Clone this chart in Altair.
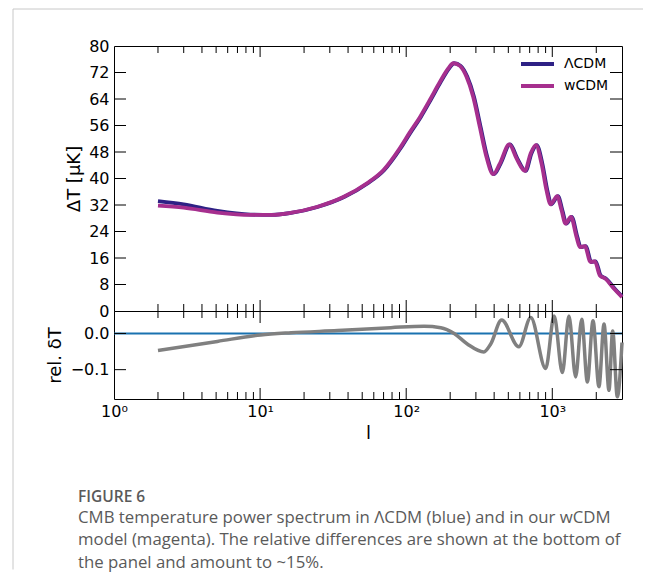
import altair as alt
import pandas as pd

# ---------------- data ----------------
MODELS = ["ΛCDM", "wCDM"]
COLORS = ["#2e2185", "#a62f8e"]

lcdm_l = [2, 3, 5.1, 8.6, 12, 16.3, 24.7, 37.6, 54.3, 70.6, 91.8, 107.5, 126, 147, 172.5,
          197, 213, 236, 262, 291, 323, 359, 399, 443, 514, 577, 658, 719, 782, 855, 925,
          986, 1094, 1172, 1248, 1357, 1485, 1564, 1692, 1850, 1981, 2143, 2344, 2642, 3000]
lcdm_T = [33.2, 32.2, 30.2, 29.1, 29.0, 29.6, 31.4, 34.4, 38.5, 42.5, 49.2, 54.0, 58.6, 63.7, 69.2,
          73.3, 74.8, 74.0, 70.7, 64.7, 55.6, 46.5, 41.3, 44.5, 50.3, 46.0, 42.3, 47.5, 50.1, 44.5, 36.4,
          32.2, 34.7, 30.4, 26.4, 28.4, 22.3, 19.3, 19.6, 14.8, 15.0, 10.7, 9.7, 7.0, 4.4]

wcdm_l = [2, 3, 5.1, 8.6, 12, 16.1, 24.4, 37.1, 53.6, 69.7, 90.6, 106.1, 124.4, 145.1, 170.3,
          194.5, 210.3, 233.0, 258.7, 287.3, 318.9, 354.4, 393.9, 437.4, 507.5, 569.7, 649.6, 709.8, 772.0, 844.1, 913.2,
          973.4, 1080, 1157, 1232, 1340, 1466, 1544, 1671, 1826, 1956, 2116, 2314, 2608, 3000]
wcdm_T = [31.8, 31.2, 29.7, 29.0, 29.0, 29.6, 31.4, 34.4, 38.5, 42.5, 49.2, 54.0, 58.6, 63.7, 69.2,
          73.3, 74.8, 74.0, 70.7, 64.7, 55.6, 46.5, 41.3, 44.5, 50.3, 46.0, 42.3, 47.5, 50.1, 44.5, 36.4,
          32.2, 34.7, 30.4, 26.4, 28.4, 22.3, 19.3, 19.6, 14.8, 15.0, 10.7, 9.7, 7.0, 4.2]

delta_l = [2, 5.1, 10.1, 16.3, 33.9, 78.5, 132.6, 172.5, 213, 262, 340, 379, 450, 590, 712,
           901, 1030, 1172, 1300, 1445, 1590, 1738, 1900, 2086, 2260, 2443, 2590, 2787, 3000]
delta_v = [-0.047, -0.022, -0.004, 0.002, 0.008, 0.016, 0.020, 0.016, 0.0, -0.029, -0.051, -0.029, 0.037, -0.037, 0.044,
           -0.097, 0.048, -0.108, 0.048, -0.120, 0.039, -0.134, 0.035, -0.147, 0.026, -0.157, 0.007, -0.175, -0.025]

T_TICKS = [0, 8, 16, 24, 32, 40, 48, 56, 64, 72, 80]
T_INNER = [8, 16, 24, 32, 40, 48, 56, 64, 72]
D_TICKS = [0.0, -0.1]
X_LABELS = [1, 10, 100, 1000]
X_MAJOR = [10, 100, 1000]
X_MINOR = [2, 3, 4, 5, 6, 7, 8, 9, 20, 30, 40, 50, 60, 70, 80, 90,
           200, 300, 400, 500, 600, 700, 800, 900, 2000]

Y_TITLE_TOP = "ΔT [μK]"
Y_TITLE_BOTTOM = "rel. δT"
X_TITLE = "l"
CAPTION_HEAD = "FIGURE 6"
CAPTION_LINES = [
    "CMB temperature power spectrum in ΛCDM (blue) and in our wCDM",
    "model (magenta). The relative differences are shown at the bottom of",
    "the panel and amount to ~15%.",
]

# ---------------- layout ----------------
W, H1, H2 = 508, 265, 88
FONT = "DejaVu Sans"
LBL = dict(labelFont=FONT, labelFontSize=16, labelColor="black",
           titleFont=FONT, titleFontSize=18, titleFontWeight="normal", titleColor="black")
XS = alt.Scale(type="log", domain=[1, 3000], nice=False)
TS = alt.Scale(domain=[0, 80], nice=False, zero=False)
DS = alt.Scale(domain=[-0.181, 0.062], nice=False, zero=False)
ONE = pd.DataFrame({"a": [0]})

top_y_axis = alt.Axis(values=T_TICKS, format="d", ticks=False, domain=False, grid=False,
                      labelPadding=5, title=Y_TITLE_TOP, titleAngle=270, titleBaseline="middle",
                      titleAlign="center", titleX=-40, titleY=H1 / 2, **LBL)
x_label_expr = ("datum.value == 1 ? '10⁰' : datum.value == 10 ? '10¹' : "
                "datum.value == 100 ? '10²' : '10³'")
bottom_x_axis = alt.Axis(values=X_LABELS, labelExpr=x_label_expr, ticks=False, domain=False,
                         grid=False, labelFlush=False, labelOverlap=False, labelPadding=4,
                         title=X_TITLE, titlePadding=5, **LBL)
d_label_expr = ("datum.value < 0 ? '\u2212' + format(-datum.value, '.1f') : "
                "format(datum.value, '.1f')")
bottom_y_axis = alt.Axis(values=D_TICKS, labelExpr=d_label_expr, ticks=False, domain=False,
                         grid=False, labelPadding=5, title=Y_TITLE_BOTTOM, titleAngle=270,
                         titleBaseline="middle", titleAlign="center", titleX=-58.5,
                         titleY=H2 / 2, **LBL)


def xticks(values, y0, y1, axis):
    return alt.Chart(pd.DataFrame({"l": values})).mark_rule(color="black", strokeWidth=1).encode(
        x=alt.X("l:Q", scale=XS, axis=axis), y=alt.value(y0), y2=alt.value(y1))


def yticks(field, values, scale, x0, x1, axis):
    return alt.Chart(pd.DataFrame({field: values})).mark_rule(color="black", strokeWidth=1).encode(
        y=alt.Y(f"{field}:Q", scale=scale, axis=axis), x=alt.value(x0), x2=alt.value(x1))


def curve(ls, ts, color):
    return alt.Chart(pd.DataFrame({"l": ls, "T": ts})).mark_line(
        color=color, strokeWidth=3.8, interpolate="monotone").encode(
        x=alt.X("l:Q", scale=XS, axis=None),
        y=alt.Y("T:Q", scale=TS, axis=top_y_axis))


legend_layers = []
for i, (name, col) in enumerate(zip(MODELS, COLORS)):
    yy = 18 + 22 * i
    legend_layers.append(alt.Chart(ONE).mark_rule(color=col, strokeWidth=3.8).encode(
        x=alt.value(407), x2=alt.value(440), y=alt.value(yy)))
    legend_layers.append(alt.Chart(ONE).mark_text(
        align="left", baseline="middle", font=FONT, fontSize=14, color="black").encode(
        x=alt.value(450), y=alt.value(yy), text=alt.value(name)))

top = alt.layer(
    curve(lcdm_l, lcdm_T, COLORS[0]),
    curve(wcdm_l, wcdm_T, COLORS[1]),
    xticks(X_MINOR, 0, 7, None), xticks(X_MAJOR, 0, 11, None),
    xticks(X_MINOR, H1 - 7, H1, None), xticks(X_MAJOR, H1 - 11, H1, None),
    yticks("T", T_INNER, TS, 0, 12, top_y_axis), yticks("T", T_INNER, TS, W - 12, W, top_y_axis),
    *legend_layers,
).properties(width=W, height=H1)

zero_line = alt.Chart(pd.DataFrame({"d": [0.0]})).mark_rule(color="#1a72b0", strokeWidth=2).encode(
    y=alt.Y("d:Q", scale=DS, axis=bottom_y_axis), x=alt.value(0), x2=alt.value(W))

delta_line = alt.Chart(pd.DataFrame({"l": delta_l, "d": delta_v})).mark_line(
    color="#808080", strokeWidth=3.5, interpolate="monotone").encode(
    x=alt.X("l:Q", scale=XS, axis=bottom_x_axis),
    y=alt.Y("d:Q", scale=DS, axis=bottom_y_axis))

frame_v = alt.Chart(ONE).mark_rule(color="#c8c8c8", strokeWidth=1).encode(
    x=alt.value(-101), y=alt.value(-302), y2=alt.value(258.5))
frame_h = alt.Chart(ONE).mark_rule(color="#c8c8c8", strokeWidth=1).encode(
    x=alt.value(-101), x2=alt.value(529), y=alt.value(-302))

cap_head = alt.Chart(ONE).mark_text(
    align="left", baseline="alphabetic", font="Open Sans", fontSize=15.5, fontWeight=600,
    color="#5a5a5a").encode(x=alt.value(-36), y=alt.value(190.5), text=alt.value(CAPTION_HEAD))
cap_body = alt.Chart(ONE).mark_text(
    align="left", baseline="alphabetic", font="Open Sans", fontSize=16.8, lineHeight=22.5,
    color="#5a5a5a").encode(x=alt.value(-36), y=alt.value(211.5), text=alt.value(CAPTION_LINES))

bottom = alt.layer(
    zero_line, delta_line,
    xticks(X_MINOR, 0, 7, bottom_x_axis), xticks(X_MAJOR, 0, 12, bottom_x_axis),
    xticks(X_MINOR, H2 - 7, H2, bottom_x_axis), xticks(X_MAJOR, H2 - 11, H2, bottom_x_axis),
    yticks("d", D_TICKS, DS, 0, 12, bottom_y_axis), yticks("d", D_TICKS, DS, W - 12, W, bottom_y_axis),
    frame_v, frame_h, cap_head, cap_body,
).properties(width=W, height=H2)

chart = alt.vconcat(top, bottom, spacing=0, bounds="flush").properties(
    padding={"left": 4, "top": 0, "right": 0, "bottom": 0},
    background="white",
).configure_view(stroke="black", strokeWidth=1)

chart.save("out.html", embed_options={"renderer": "svg", "actions": False})
